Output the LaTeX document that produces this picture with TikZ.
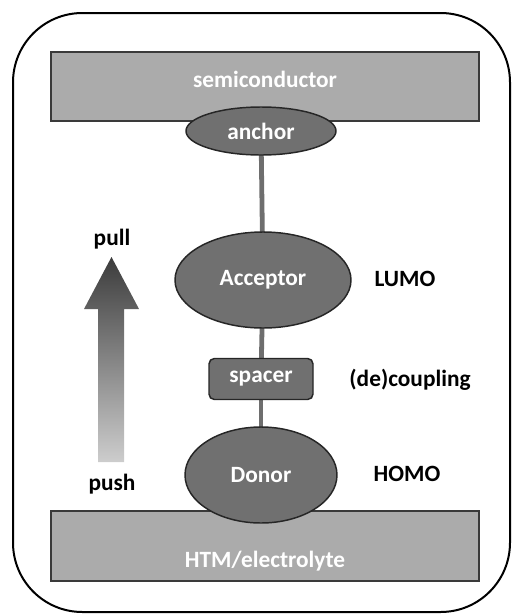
\documentclass[tikz,border=0pt]{standalone}
\usepackage{fontspec}
\setmainfont{Carlito}
\usetikzlibrary{shapes.geometric,backgrounds}
\definecolor{layerfill}{HTML}{ABABAB}
\definecolor{layerdraw}{HTML}{3A3A3A}
\definecolor{molfill}{HTML}{707070}
\definecolor{moldraw}{HTML}{262626}
\definecolor{linkcol}{HTML}{6E6E6E}
\tikzset{
  lbl/.style={font=\fontsize{17.5}{21}\selectfont\bfseries, text=black, inner sep=0pt},
  wtext/.style={font=\fontsize{17.5}{21}\selectfont\bfseries, text=white, inner sep=0pt},
  layerbox/.style={rectangle, fill=layerfill, draw=layerdraw, line width=1.3pt, minimum width=321pt, minimum height=52pt, inner sep=0pt},
  molell/.style={ellipse, fill=molfill, draw=moldraw, line width=1.1pt, inner sep=0pt, text=white, font=\fontsize{17.5}{21}\selectfont\bfseries},
  spacerbox/.style={rectangle, rounded corners=4pt, fill=molfill, draw=moldraw, line width=1.1pt, inner sep=0pt, text=white, font=\fontsize{17.5}{21}\selectfont\bfseries, minimum width=78pt, minimum height=30.75pt},
  link/.style={draw=linkcol, line width=3.6pt},
}
\begin{document}
\begin{tikzpicture}[x=0.75pt,y=-0.75pt]
\useasboundingbox (0,0) rectangle (512,615);
\draw[line width=1.5pt, rounded corners=52pt] (13,13) rectangle (510,612);
% layers
\node[layerbox] (semi) at (265,86.5) {};
\node[wtext] (semitext) at (265,79) {semiconductor};
\node[layerbox] (htm) at (265,546) {};
\node[wtext] (htmtext) at (265,561) {HTM/electrolyte};
% molecule parts
\node[molell, minimum width=112.5pt, minimum height=36pt] (anchor) at (261,131) {anchor};
\node[molell, minimum width=132pt, minimum height=72pt] (acc) at (263,280) {Acceptor};
\node[spacerbox] (spacer) at (261,379) {spacer};
\node[molell, minimum width=114pt, minimum height=72pt] (donor) at (261,475) {Donor};
\begin{scope}[on background layer]
\draw[link] (anchor.center) -- (acc.center);
\draw[link] (acc.center) -- (spacer.center);
\draw[link] (spacer.center) -- (donor.center);
\end{scope}
% labels
\node[lbl] (lumo) at (405,279) {LUMO};
\node[lbl] (decoup) at (410,380) {(de)coupling};
\node[lbl] (homo) at (407,474) {HOMO};
\node[lbl] (pull) at (112,239) {pull};
\node[lbl] (push) at (112,484) {push};
% gradient arrow
\shade[top color={rgb,255:red,60;green,60;blue,60}, bottom color={rgb,255:red,205;green,205;blue,205}]
  (98,462) -- (98,309) -- (84,309) -- (111.5,257) -- (139,309) -- (124,309) -- (124,462) -- cycle;
\end{tikzpicture}
\end{document}
